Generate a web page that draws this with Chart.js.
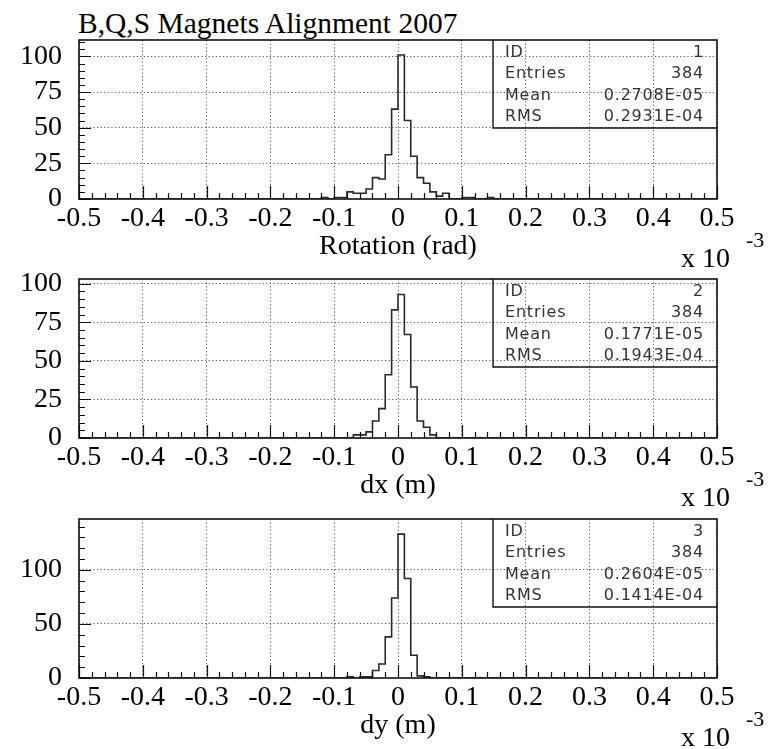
<!DOCTYPE html>
<html>
<head>
<meta charset="utf-8">
<script src="https://cdn.jsdelivr.net/npm/chart.js@4"></script>
<style>
  html, body { margin: 0; padding: 0; background: #fff; }
  body { width: 774px; height: 749px; position: relative; overflow: hidden; }
  #title { position: absolute; left: 78px; top: 9px; font: 29.5px/1 "Liberation Serif", serif; color: #000; white-space: nowrap; }
  .panel { position: absolute; left: 0; width: 774px; height: 270px; }
</style>
</head>
<body>
<div id="title">B,Q,S Magnets Alignment 2007</div>
<canvas id="c0" class="panel" width="774" height="270" style="top:0px"></canvas>
<canvas id="c1" class="panel" width="774" height="270" style="top:239px"></canvas>
<canvas id="c2" class="panel" width="774" height="270" style="top:479px"></canvas>
<script>
// Histogram bins: width 0.01 (x 10^-3), counts listed from the first filled bin
const BIN_WIDTH = 0.01;
const X_MIN = -0.5, X_MAX = 0.5;

const rotationStart = -0.12;
const rotationCounts = [1, 0, 1, 1, 5, 4, 4, 7, 15, 14, 31, 63, 101, 55, 30, 15, 11, 5, 2, 4, 0, 0, 1, 1, 0, 0, 1];

const dxStart = -0.07;
const dxCounts = [2, 2, 4, 11, 19, 41, 83, 93, 67, 33, 11, 7, 2];

const dyStart = -0.08;
const dyCounts = [1, 0, 1, 1, 7, 13, 38, 74, 133, 92, 21, 2, 1];

// Axis titles and y ranges
const axisTitles = ['Rotation (rad)', 'dx (m)', 'dy (m)'];
const yMaxima = [111.5, 103, 147];
const yMinorSteps = [5, 5, 10];
const yMajorSteps = [25, 25, 50];

// Statistics box contents
const statIds = ['1', '2', '3'];
const statEntries = ['384', '384', '384'];
const statMeans = ['0.2708E-05', '0.1771E-05', '0.2604E-05'];
const statRms = ['0.2931E-04', '0.1943E-04', '0.1414E-04'];

const SERIF = '"Liberation Serif", "Times New Roman", serif';

function histogramPoints(start, counts) {
  const pts = [{ x: X_MIN, y: 0 }, { x: start, y: 0 }];
  counts.forEach((c, i) => pts.push({ x: start + i * BIN_WIDTH, y: c }));
  pts.push({ x: start + counts.length * BIN_WIDTH, y: 0 });
  pts.push({ x: X_MAX, y: 0 });
  return pts;
}

function isMajorX(v) { return Math.round(v * 100) % 10 === 0; }

// Frame, inward tick marks, statistics box and exponent label
const framePlugin = {
  id: 'framePlugin',
  afterDraw(chart, args, opts) {
    const { ctx, chartArea: a } = chart;
    const xs = chart.scales.x, ys = chart.scales.y;
    ctx.save();
    ctx.strokeStyle = '#111';
    ctx.lineWidth = 1.2;
    // tick marks
    ctx.beginPath();
    xs.ticks.forEach(t => {
      const px = Math.round(xs.getPixelForValue(t.value)) + 0.5;
      const len = isMajorX(t.value) ? 13 : 6;
      ctx.moveTo(px, a.bottom);
      ctx.lineTo(px, a.bottom - len);
    });
    ys.ticks.forEach(t => {
      const py = Math.round(ys.getPixelForValue(t.value)) + 0.5;
      const len = (t.value % opts.yMajor === 0) ? 12 : 6;
      ctx.moveTo(a.left, py);
      ctx.lineTo(a.left + len, py);
    });
    ctx.stroke();
    // frame
    ctx.lineWidth = 1.6;
    ctx.strokeRect(a.left, a.top, a.right - a.left, a.bottom - a.top);

    // statistics box
    const bx = 493, bTop = a.top, bBottom = a.top + 88;
    ctx.lineWidth = 1.4;
    ctx.beginPath();
    ctx.moveTo(bx, bTop);
    ctx.lineTo(bx, bBottom);
    ctx.lineTo(a.right, bBottom);
    ctx.stroke();
    ctx.fillStyle = '#333';
    ctx.font = '16px "DejaVu Sans", sans-serif';
    ctx.letterSpacing = '0.8px';
    ctx.textBaseline = 'middle';
    const rows = [['ID', opts.id], ['Entries', opts.entries], ['Mean', opts.mean], ['RMS', opts.rms]];
    const rowY = [13, 34, 56, 77];
    rows.forEach((r, i) => {
      ctx.textAlign = 'left';
      ctx.fillText(r[0], 505, bTop + rowY[i]);
      ctx.textAlign = 'right';
      ctx.fillText(r[1], 704, bTop + rowY[i]);
    });
    ctx.letterSpacing = '0px';

    // x 10^-3 multiplier
    ctx.fillStyle = '#000';
    ctx.textAlign = 'left';
    ctx.textBaseline = 'alphabetic';
    ctx.font = '28px ' + SERIF;
    ctx.fillText('x 10', 681, 267);
    ctx.font = '22px ' + SERIF;
    ctx.fillText('-3', 746, 247);
    ctx.restore();
  }
};

function makePanel(i, start, counts) {
  const yMajor = yMajorSteps[i];
  return new Chart(document.getElementById('c' + i), {
    type: 'line',
    data: {
      datasets: [{
        data: histogramPoints(start, counts),
        stepped: 'before',
        borderColor: '#2a2a2a',
        borderWidth: 1.6,
        pointRadius: 0,
        fill: false
      }]
    },
    options: {
      responsive: false,
      animation: false,
      layout: { padding: { top: 40, right: 57, left: 0, bottom: 0 } },
      plugins: {
        legend: { display: false },
        tooltip: { enabled: false },
        framePlugin: {
          yMajor: yMajor,
          id: statIds[i], entries: statEntries[i], mean: statMeans[i], rms: statRms[i]
        }
      },
      scales: {
        x: {
          type: 'linear',
          min: X_MIN, max: X_MAX,
          afterFit: s => { s.height = 71; },
          ticks: {
            stepSize: 0.02,
            maxTicksLimit: 200,
            autoSkip: false,
            maxRotation: 0, minRotation: 0,
            padding: 3,
            color: '#000',
            font: { family: SERIF, size: 28 },
            callback: v => {
              const k = Math.round(v * 100);
              if (k % 10 !== 0) return '';
              return k === 0 ? '0' : (k / 100).toFixed(1);
            }
          },
          grid: {
            drawTicks: false,
            lineWidth: 1,
            color: c => (c.tick && isMajorX(c.tick.value)) ? '#555' : 'rgba(0,0,0,0)'
          },
          border: { display: false, dash: [1.2, 2.4] },
          title: {
            display: true,
            text: axisTitles[i],
            color: '#000',
            font: { family: SERIF, size: 28 },
            padding: { top: 0, bottom: 7 }
          }
        },
        y: {
          type: 'linear',
          min: 0, max: yMaxima[i],
          afterFit: s => { s.width = 79; },
          ticks: {
            stepSize: yMinorSteps[i],
            includeBounds: false,
            autoSkip: false,
            padding: 17,
            color: '#000',
            font: { family: SERIF, size: 28 },
            callback: v => (v % yMajor === 0 ? String(v) : '')
          },
          grid: {
            drawTicks: false,
            lineWidth: 1,
            color: c => (c.tick && c.tick.value > 0 && c.tick.value % yMajor === 0) ? '#555' : 'rgba(0,0,0,0)'
          },
          border: { display: false, dash: [1.2, 2.4] }
        }
      }
    },
    plugins: [framePlugin]
  });
}

makePanel(0, rotationStart, rotationCounts);
makePanel(1, dxStart, dxCounts);
makePanel(2, dyStart, dyCounts);
</script>
</body>
</html>
